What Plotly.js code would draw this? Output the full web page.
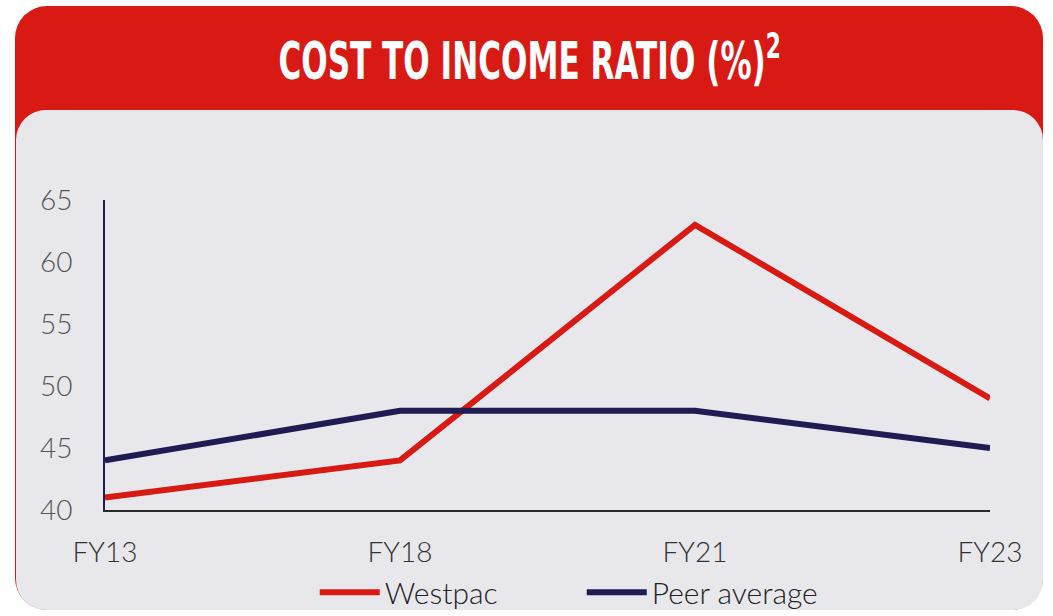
<!DOCTYPE html>
<html>
<head>
<meta charset="utf-8">
<script src="https://cdn.plot.ly/plotly-3.0.1.min.js"></script>
<style>
  html, body { margin:0; padding:0; background:#ffffff; width:1053px; height:616px; overflow:hidden; }
  #red { position:absolute; left:15px; top:6px; width:1028px; height:604px; background:#D91A14; border-radius:32px; }
  #gray { position:absolute; left:16px; top:110px; width:1027px; height:500px; background:#E8E7EC; border-radius:30px; }
  #chart { position:absolute; left:0; top:0; width:1053px; height:616px; }
  .gtitle { transform-box: fill-box; transform-origin: center; transform: scaleX(0.61); }
</style>
</head>
<body>
<div id="red"></div>
<div id="gray"></div>
<div id="chart"></div>
<script>
const categories = ["FY13", "FY18", "FY21", "FY23"];
const westpac = [41, 44, 63, 49];
const peerAverage = [44, 48, 48, 45];
const yTicks = [40, 45, 50, 55, 60, 65];

const traces = [
  { x: categories, y: westpac, name: "Westpac", type: "scatter", mode: "lines",
    line: { color: "#D91A14", width: 6 } },
  { x: categories, y: peerAverage, name: "Peer average", type: "scatter", mode: "lines",
    line: { color: "#1E1C52", width: 6 } }
];

const layout = {
  width: 1053, height: 616,
  paper_bgcolor: "rgba(0,0,0,0)", plot_bgcolor: "rgba(0,0,0,0)",
  margin: { l: 105, r: 63, t: 200, b: 106, autoexpand: false },
  title: {
    text: "COST TO INCOME RATIO (%)<sup>2</sup>",
    font: { family: "DejaVu Sans", size: 51, weight: 700, color: "#ffffff" },
    x: 0.503, xanchor: "center", y: 0.9, yanchor: "middle"
  },
  showlegend: true,
  legend: {
    orientation: "h", x: 0.237, xanchor: "left", y: -0.265, yanchor: "middle",
    font: { family: "Lato, Open Sans, sans-serif", size: 30, weight: 300, color: "#222222" },
    bgcolor: "rgba(0,0,0,0)", itemwidth: 60, entrywidth: 192
  },
  xaxis: {
    type: "category", range: [0, 3], showgrid: false, zeroline: false,
    showline: true, linecolor: "#2a2a2a", linewidth: 2,
    ticks: "", ticklabelstandoff: 16,
    tickfont: { family: "Lato, Open Sans, sans-serif", size: 28, weight: 300, color: "#333333" }
  },
  yaxis: {
    range: [40, 65], tickvals: yTicks, showgrid: false, zeroline: false,
    showline: true, linecolor: "#1E1C52", linewidth: 2,
    ticks: "", ticklabelstandoff: 25,
    tickfont: { family: "Lato, Open Sans, sans-serif", size: 28, weight: 300, color: "#555555" }
  }
};

Plotly.newPlot("chart", traces, layout, { displayModeBar: false, staticPlot: true });
</script>
</body>
</html>
